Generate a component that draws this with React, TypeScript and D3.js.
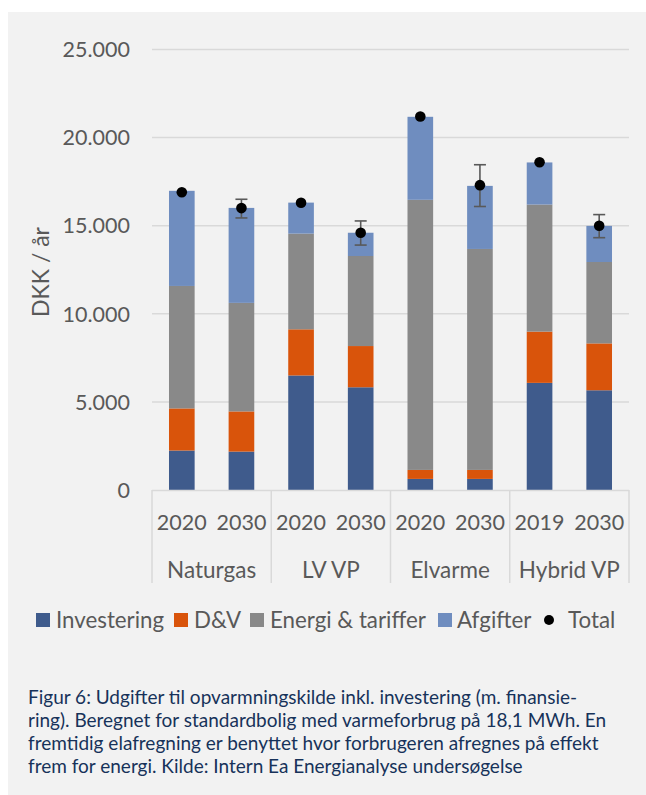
import React from "react";
import * as d3 from "d3";

const categories = ["Naturgas", "LV VP", "Elvarme", "Hybrid VP"];
const years = ["2020", "2030", "2020", "2030", "2020", "2030", "2019", "2030"];
const groupOf = [0, 0, 1, 1, 2, 2, 3, 3];
const seriesNames = ["Investering", "D&V", "Energi & tariffer", "Afgifter"];
const investering = [2240, 2180, 6500, 5830, 630, 630, 6080, 5660];
const dv = [2390, 2280, 2620, 2340, 510, 510, 2910, 2660];
const energi = [6950, 6160, 5430, 5110, 15330, 12540, 7210, 4620];
const afgifter = [5400, 5390, 1760, 1320, 4710, 3580, 2390, 2050];
const total = [16900, 16000, 16300, 14600, 21200, 17300, 18600, 15000];
const errHigh = [null, 16500, null, 15270, null, 18460, null, 15630];
const errLow = [null, 15440, null, 13900, null, 16090, null, 14320];
const yTicks = [0, 5000, 10000, 15000, 20000, 25000];
const captionLines = [
  "Figur 6: Udgifter til opvarmningskilde inkl. investering (m. finansie-",
  "ring). Beregnet for standardbolig med varmeforbrug på 18,1 MWh. En",
  "fremtidig elafregning er benyttet hvor forbrugeren afregnes på effekt",
  "frem for energi. Kilde: Intern Ea Energianalyse undersøgelse",
];

const colors = ["#3f5b8c", "#d9540b", "#898989", "#6f8dbf"];
const FONT = "Lato, 'Open Sans', sans-serif";
const TXT = "#595959";

export default function App() {
  const W = 646, H = 795;
  const x0 = 152, x1 = 629;
  const y = d3.scaleLinear().domain([0, 25000]).range([490, 49.5]);
  const idx = d3.range(years.length);
  const x = d3.scaleBand<number>().domain(idx).range([x0, x1]).paddingInner(0.57).paddingOuter(0.285);
  const table = idx.map((i) => ({ i, s0: investering[i], s1: dv[i], s2: energi[i], s3: afgifter[i] }));
  const stack = d3.stack<any>().keys(["s0", "s1", "s2", "s3"])(table);
  const loc = d3.formatLocale({ decimal: ",", thousands: ".", grouping: [3], currency: ["", ""] });
  const fmt = loc.format(",");
  const step = (x1 - x0) / years.length;

  const legend = [
    { sx: 36, tx: 56, label: seriesNames[0], c: colors[0] },
    { sx: 174, tx: 194, label: seriesNames[1], c: colors[1] },
    { sx: 250, tx: 270, label: seriesNames[2], c: colors[2] },
    { sx: 438, tx: 457, label: seriesNames[3], c: colors[3] },
  ];

  return (
    <svg width={W} height={H} style={{ position: "absolute", left: 0, top: 0, background: "#fff" }} fontFamily={FONT}>
      <rect x={8} y={12} width={W - 8} height={H - 12} fill="#f2f2f2" />
      {yTicks.map((t) => (
        <g key={t}>
          {t > 0 && <line x1={x0} x2={x1} y1={y(t)} y2={y(t)} stroke="#d9d9d9" strokeWidth={1.5} />}
          <text x={130} y={y(t)} dy="0.36em" textAnchor="end" fontSize={21.5} fill={TXT}>{fmt(t)}</text>
        </g>
      ))}
      <text transform={`translate(49,272) rotate(-90)`} textAnchor="middle" fontSize={23} fill={TXT}>DKK / år</text>
      {stack.map((layer, k) => (
        <g key={k} fill={colors[k]}>
          {layer.map((d, i) => (
            <rect key={i} x={x(i)} width={x.bandwidth()} y={y(d[1])} height={y(d[0]) - y(d[1])} />
          ))}
        </g>
      ))}
      <line x1={x0} x2={x1} y1={490.5} y2={490.5} stroke="#d9d9d9" strokeWidth={1.5} />
      {d3.range(categories.length + 1).map((g) => (
        <line key={g} x1={x0 + g * step * 2} x2={x0 + g * step * 2} y1={490} y2={583} stroke="#d9d9d9" strokeWidth={1.5} />
      ))}
      {idx.map((i) => (
        <text key={i} x={(x(i) as number) + x.bandwidth() / 2} y={522} dy="0.36em" textAnchor="middle" fontSize={21.5} fill={TXT}>{years[i]}</text>
      ))}
      {categories.map((c, g) => {
        const members = idx.filter((i) => groupOf[i] === g);
        const cx = d3.mean(members, (i) => (x(i) as number) + x.bandwidth() / 2) as number;
        return <text key={c} x={cx} y={570} dy="0.36em" textAnchor="middle" fontSize={22.5} fill={TXT}>{c}</text>;
      })}
      {idx.map((i) => {
        const cx = (x(i) as number) + x.bandwidth() / 2;
        const hi = errHigh[i], lo = errLow[i];
        return (
          <g key={i}>
            {hi != null && lo != null && (
              <g stroke="#595959" strokeWidth={1.6}>
                <line x1={cx} x2={cx} y1={y(hi)} y2={y(lo)} />
                <line x1={cx - 6} x2={cx + 6} y1={y(hi)} y2={y(hi)} />
                <line x1={cx - 6} x2={cx + 6} y1={y(lo)} y2={y(lo)} />
              </g>
            )}
            <circle cx={cx} cy={y(total[i])} r={5.3} fill="#000" />
          </g>
        );
      })}
      {legend.map((l) => (
        <g key={l.label}>
          <rect x={l.sx} y={613} width={14} height={14} fill={l.c} />
          <text x={l.tx} y={620} dy="0.36em" fontSize={22.3} fill={TXT}>{l.label}</text>
        </g>
      ))}
      <circle cx={549} cy={620} r={5} fill="#000" />
      <text x={568} y={620} dy="0.36em" fontSize={22.3} fill={TXT}>Total</text>
      {captionLines.map((line, k) => (
        <text key={k} x={28} y={697 + k * 23} dy="0.36em" fontSize={19} fill="#17325a">{line}</text>
      ))}
    </svg>
  );
}
